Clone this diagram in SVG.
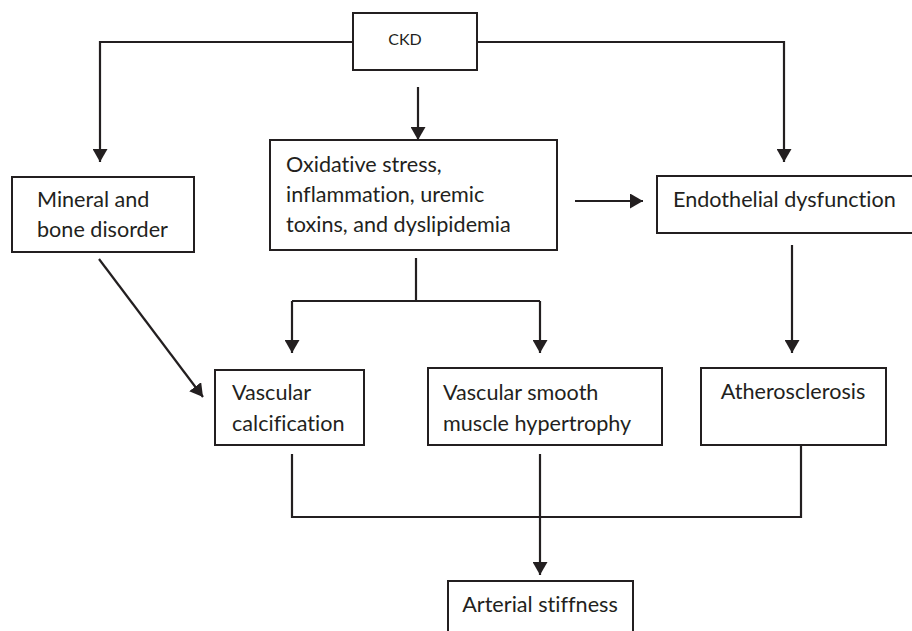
<svg xmlns="http://www.w3.org/2000/svg" width="912" height="631" viewBox="0 0 912 631">
<defs>
<style>
.box{fill:#fff;stroke:#231f20;stroke-width:2}
.t{font-family:Lato,"Liberation Sans",sans-serif;font-size:21.6px;fill:#231f20;font-variant-ligatures:none;font-feature-settings:"liga" 0}
.c{fill:none;stroke:#231f20;stroke-width:2.2}
</style>
<marker id="ah" markerUnits="userSpaceOnUse" markerWidth="15" markerHeight="15" viewBox="0 0 15 15" refX="13" refY="7.5" orient="auto">
<path d="M0,0 L13,7.5 L0,15 Z" fill="#231f20"/>
</marker>
</defs>
<rect width="912" height="631" fill="#fff"/>
<g id="connectors">
<path class="c" d="M353,42 H100 V162" marker-end="url(#ah)"/>
<path class="c" d="M477,42 H784 V162" marker-end="url(#ah)"/>
<path class="c" d="M418,87 V140" marker-end="url(#ah)"/>
<path class="c" d="M575,201 H643" marker-end="url(#ah)"/>
<path class="c" d="M416,258 V301"/>
<path class="c" d="M292,301 H540"/>
<path class="c" d="M292,301 V353" marker-end="url(#ah)"/>
<path class="c" d="M540,301 V353" marker-end="url(#ah)"/>
<path class="c" d="M792,245 V353" marker-end="url(#ah)"/>
<path class="c" d="M99,259 L203,397" marker-end="url(#ah)"/>
<path class="c" d="M292,454 V517 H801 V446"/>
<path class="c" d="M540,454 V575" marker-end="url(#ah)"/>
</g>
<g id="ckd">
<rect class="box" x="353" y="13" width="124" height="57"/>
<text class="t" x="405" y="45" text-anchor="middle" style="font-size:16px">CKD</text>
</g>
<g id="mineral">
<rect class="box" x="12" y="177" width="182" height="75"/>
<text class="t" x="37" y="207">Mineral and</text>
<text class="t" x="37" y="237">bone disorder</text>
</g>
<g id="oxidative">
<rect class="box" x="270" y="140" width="287" height="110"/>
<text class="t" x="286" y="172">Oxidative stress,</text>
<text class="t" x="286" y="202">inflammation, uremic</text>
<text class="t" x="286" y="232">toxins, and dyslipidemia</text>
</g>
<g id="endothelial">
<rect class="box" x="657" y="176" width="260" height="57"/>
<text class="t" x="673" y="207">Endothelial dysfunction</text>
</g>
<g id="calcification">
<rect class="box" x="215" y="370" width="149" height="75"/>
<text class="t" x="232" y="400">Vascular</text>
<text class="t" x="232" y="431">calcification</text>
</g>
<g id="hypertrophy">
<rect class="box" x="428" y="368" width="234" height="77"/>
<text class="t" x="443" y="400">Vascular smooth</text>
<text class="t" x="443" y="431">muscle hypertrophy</text>
</g>
<g id="atherosclerosis">
<rect class="box" x="701" y="368" width="185" height="77"/>
<text class="t" x="793" y="399" text-anchor="middle">Atherosclerosis</text>
</g>
<g id="stiffness">
<rect class="box" x="448" y="581" width="185" height="60"/>
<text class="t" x="540" y="612" text-anchor="middle">Arterial stiffness</text>
</g>
</svg>
